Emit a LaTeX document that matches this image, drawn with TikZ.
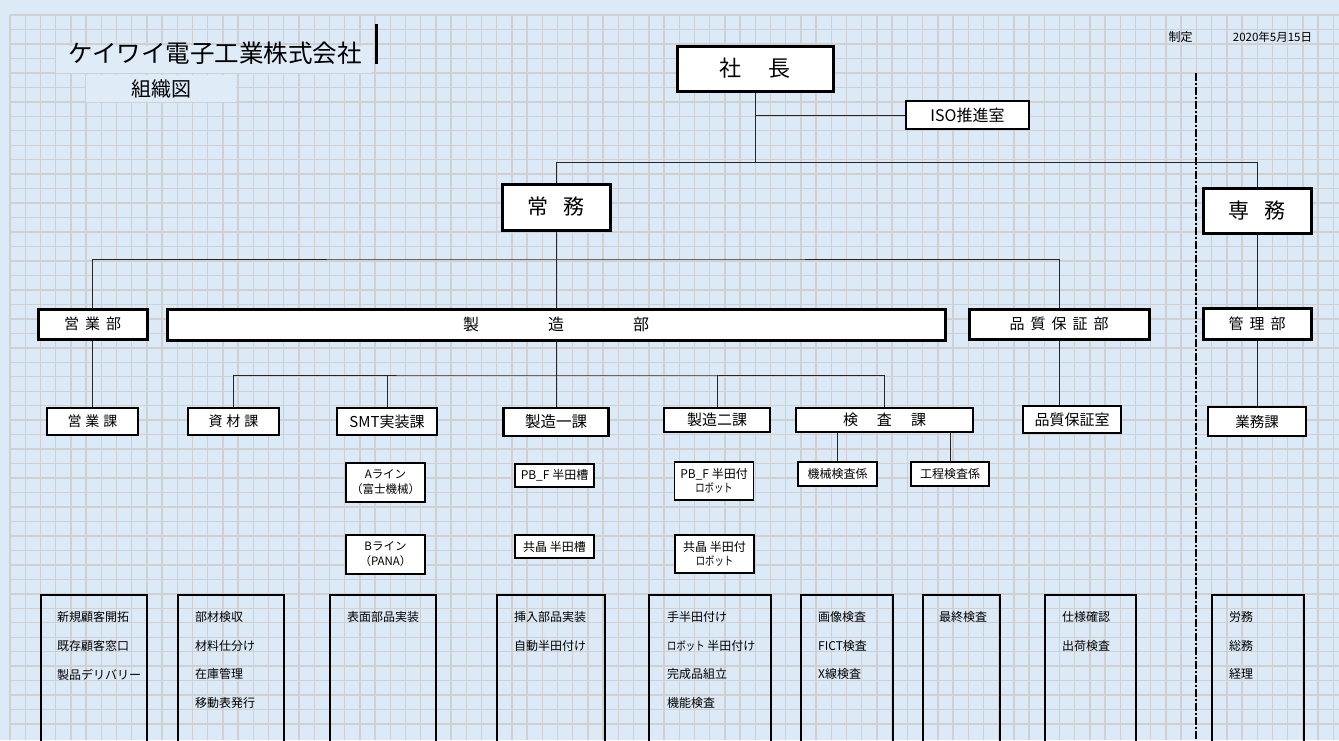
\documentclass[tikz,border=0pt]{standalone}
\usepackage{fontspec}
\setmainfont{Noto Sans CJK JP}
\definecolor{bgblue}{RGB}{220,233,246}
\definecolor{gridgray}{RGB}{208,208,210}
\newcommand\narrowkana[1]{\scalebox{0.78}[1]{#1}}
\begin{document}
\begin{tikzpicture}[x=1pt,y=-1pt,
  box/.style={draw=black, fill=white, inner sep=0pt, align=center},
  bthree/.style={box, line width=3pt},
  btwo/.style={box, line width=2pt},
  bone/.style={box, line width=1.2pt},
  bottombox/.style={draw=black, line width=2pt, inner sep=0pt, anchor=north west},
  conn/.style={draw=black!85, line width=1pt},
  gridline/.style={draw=gridgray, line width=1.4pt},
  btxt/.style={anchor=west, inner sep=0pt, font=\fontsize{12}{14}\selectfont},
  fs/.style={font=\fontsize{#1}{#1}\selectfont}
]
\useasboundingbox (0,0) rectangle (1339,740);
\clip (0,0) rectangle (1339,740);
\fill[bgblue] (0,0) rectangle (1339,740);
% spreadsheet grid
\foreach \k in {0,...,87} \draw[gridline] ({10+15.21*\k},15) -- ({10+15.21*\k},740);
\foreach \k in {0,...,49} \draw[gridline] (10,{15+14.47*\k}) -- (1339,{15+14.47*\k});
% merged title cells
\fill[bgblue!92!white] (56,46) rectangle (372,73);
\fill[bgblue!92!white] (86,75) rectangle (236,102);

% title
\node[fs=24.5, inner sep=0pt] (title) at (215,53) {ケイワイ電子工業株式会社};
\node[fs=20, inner sep=0pt] (soshiki) at (161,89) {組織図};
\draw[line width=3pt] (376,24) -- (376,64);
\node[fs=12, inner sep=0pt] (seitei) at (1180.5,37) {制定};
\node[fs=11.5, inner sep=0pt] (date) at (1272.5,37) {2020年5月15日};

% separator
\draw[line width=1.8pt, dash pattern=on 8pt off 2pt on 2pt off 2pt] (1196,73) -- (1196,740);

% top level
\node[bthree, fs=22, minimum width=156pt, minimum height=45pt] (pres) at (755,68.5) {社\hspace{28pt}長};
\node[bthree, line width=2.6pt, fs=16, minimum width=123pt, minimum height=28pt] (iso) at (967.5,115) {ISO推進室};
\node[bthree, fs=21, minimum width=108pt, minimum height=46pt] (jomu) at (556,207) {常\hspace{15pt}務};
\node[bthree, fs=21, minimum width=108pt, minimum height=45pt] (senmu) at (1257,210.5) {専\hspace{16pt}務};

% departments
\node[bthree, fs=15, minimum width=109pt, minimum height=30pt] (eigyobu) at (92.5,324) {営\hspace{6pt}業\hspace{6pt}部};
\node[bthree, fs=16, minimum width=778pt, minimum height=31pt] (seizobu) at (556,324.5) {製\hspace{69pt}造\hspace{69pt}部};
\node[bthree, fs=15, minimum width=180pt, minimum height=30pt] (hinbu) at (1059,324) {品\hspace{6pt}質\hspace{6pt}保\hspace{6pt}証\hspace{6pt}部};
\node[bthree, fs=15, minimum width=108pt, minimum height=31pt] (kanribu) at (1257,323.5) {管\hspace{6pt}理\hspace{6pt}部};

% sections
\node[btwo, fs=14, minimum width=91pt, minimum height=27pt] (eigyoka) at (92.5,421.5) {営\hspace{4pt}業\hspace{4pt}課};
\node[btwo, fs=14, minimum width=91pt, minimum height=27pt] (shizai) at (233.5,421.5) {資\hspace{4pt}材\hspace{4pt}課};
\node[btwo, fs=15, minimum width=100pt, minimum height=27pt] (smt) at (387,421.5) {SMT実装課};
\node[btwo, line width=2.5pt, fs=15.5, minimum width=105pt, minimum height=28pt] (seizo1) at (556,422) {製造一課};
\node[btwo, line width=2.4pt, fs=15, minimum width=106pt, minimum height=24pt] (seizo2) at (717,420) {製造二課};
\node[btwo, fs=15, minimum width=177pt, minimum height=24pt] (kensa) at (884.5,420) {検\hspace{19pt}査\hspace{19pt}課};
\node[btwo, fs=15, minimum width=98pt, minimum height=27pt] (hinshitsu) at (1072,419.5) {品質保証室};
\node[btwo, fs=14.5, minimum width=98pt, minimum height=29pt] (gyomu) at (1257,421.5) {業務課};

% sub units
\node[bone, font=\fontsize{11.5}{15}\selectfont, minimum width=79pt, minimum height=39pt] (aline) at (385.5,482.5) {Aライン\\（富士機械）};
\node[bone, font=\fontsize{11.5}{15}\selectfont, minimum width=79pt, minimum height=39pt] (bline) at (385.5,554.5) {Bライン\\（PANA）};
\node[bone, fs=12, minimum width=79pt, minimum height=23pt] (pbf1) at (554.5,475.5) {PB\_F 半田槽};
\node[bone, fs=12, minimum width=79pt, minimum height=23pt] (kyo1) at (554.5,546.5) {共晶 半田槽};
\node[bone, font=\fontsize{12}{14.5}\selectfont, minimum width=79pt, minimum height=38pt] (pbf2) at (714,481) {PB\_F 半田付\\\narrowkana{ロボット}};
\node[bone, font=\fontsize{12}{14.5}\selectfont, minimum width=79pt, minimum height=38pt] (kyo2) at (714.5,554) {共晶 半田付\\\narrowkana{ロボット}};
\node[bone, fs=12, minimum width=79pt, minimum height=24pt] (kikai) at (837.5,474) {機械検査係};
\node[bone, fs=12, minimum width=78pt, minimum height=24pt] (kotei) at (950,474) {工程検査係};

% connectors
\coordinate (bus1) at (755,162);
\coordinate (bus2) at (556,259);
\coordinate (bus3) at (556,375);
\draw[conn] (pres.south) -- (bus1);
\draw[conn] (pres.south |- iso.west) -- (iso.west);
\draw[conn] (jomu.north) -- (jomu.north |- bus1) -- (senmu.north |- bus1) -- (senmu.north);
\draw[conn] (jomu.south) -- (seizobu.north);
\draw[conn] (eigyobu.north) |- (bus2) -| (hinbu.north);
\draw[conn] (eigyobu.south) -- (eigyoka.north);
\draw[conn] (seizobu.south) -- (seizo1.north);
\draw[conn] (shizai.north) |- (bus3) -| (kensa.north);
\draw[conn] (smt.north) -- (smt.north |- bus3);
\draw[conn] (seizo2.north) -- (seizo2.north |- bus3);
\draw[conn] (kensa.south -| kikai.north) -- (kikai.north);
\draw[conn] (kensa.south -| kotei.north) -- (kotei.north);
\draw[conn] (hinbu.south) -- (hinbu.south |- hinshitsu.north);
\draw[conn] (senmu.south) -- (kanribu.north);
\draw[conn] (kanribu.south) -- (gyomu.north);

% bottom task boxes
\node[bottombox, minimum width=106pt, minimum height=200pt] (bb1) at (40,594) {};
\node[bottombox, minimum width=106pt, minimum height=200pt] (bb2) at (177,594) {};
\node[bottombox, minimum width=106pt, minimum height=200pt] (bb3) at (329,594) {};
\node[bottombox, minimum width=108pt, minimum height=200pt] (bb4) at (496,594) {};
\node[bottombox, minimum width=122pt, minimum height=200pt] (bb5) at (648,594) {};
\node[bottombox, minimum width=92pt, minimum height=200pt] (bb6) at (800,594) {};
\node[bottombox, minimum width=77pt, minimum height=200pt] (bb7) at (922,594) {};
\node[bottombox, minimum width=91pt, minimum height=200pt] (bb8) at (1044,594) {};
\node[bottombox, minimum width=92pt, minimum height=200pt] (bb9) at (1211,594) {};

\foreach \t [count=\i] in {新規顧客開拓,既存顧客窓口,製品デリバリー}
  \node[btxt] (ta\i) at (57,{617+28.7*(\i-1)}) {\t};
\foreach \t [count=\i] in {部材検収,材料仕分け,在庫管理,移動表発行}
  \node[btxt] (tb\i) at (195,{617+28.7*(\i-1)}) {\t};
\node[btxt] (tc1) at (347,617) {表面部品実装};
\foreach \t [count=\i] in {挿入部品実装,自動半田付け}
  \node[btxt] (td\i) at (514,{617+28.7*(\i-1)}) {\t};
\foreach \t [count=\i] in {手半田付け,{\narrowkana{ロボット}\ 半田付け},完成品組立,機能検査}
  \node[btxt] (te\i) at (667,{617+28.7*(\i-1)}) {\t};
\foreach \t [count=\i] in {画像検査,FICT検査,X線検査}
  \node[btxt] (tf\i) at (818,{617+28.7*(\i-1)}) {\t};
\node[btxt] (tg1) at (939,617) {最終検査};
\foreach \t [count=\i] in {仕様確認,出荷検査}
  \node[btxt] (th\i) at (1062,{617+28.7*(\i-1)}) {\t};
\foreach \t [count=\i] in {労務,総務,経理}
  \node[btxt] (ti\i) at (1229,{617+28.7*(\i-1)}) {\t};
\end{tikzpicture}
\end{document}
